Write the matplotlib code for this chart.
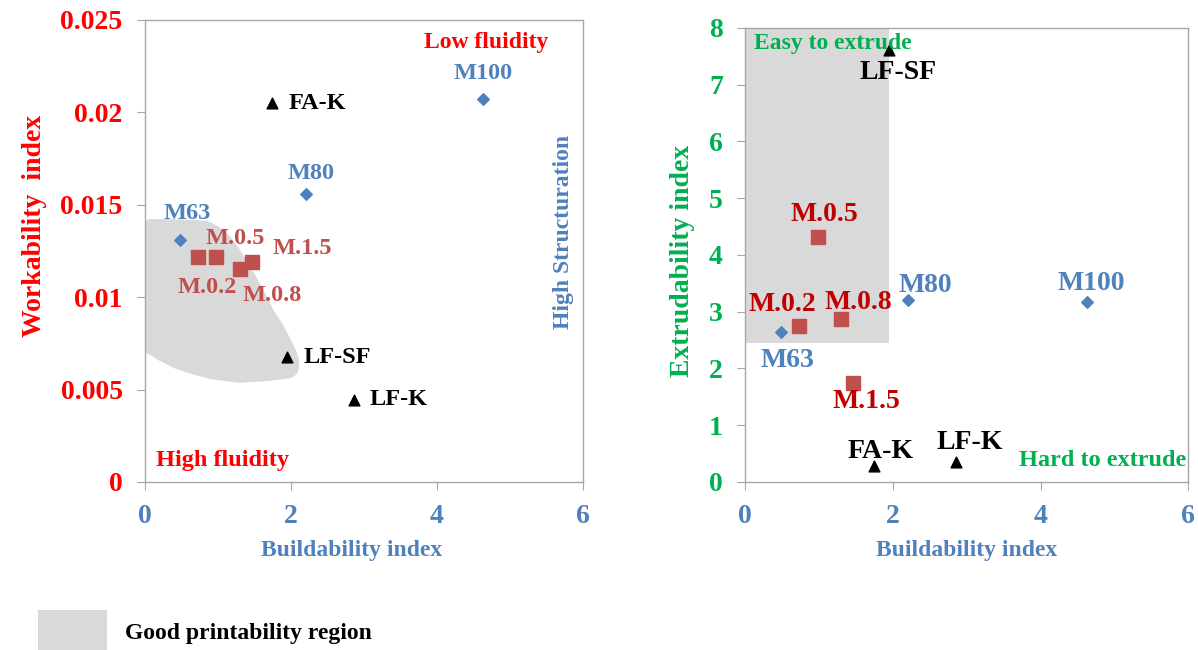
import matplotlib.pyplot as plt
from matplotlib.patches import Polygon, Rectangle
import numpy as np

plt.rcParams['font.family'] = ['Liberation Serif', 'DejaVu Serif']
plt.rcParams['font.weight'] = 'bold'

# mixes
m_names = ["M.0.2", "M.0.5", "M.0.8", "M.1.5"]
m_build = [0.73, 0.98, 1.30, 1.46]
m_work = [0.0122, 0.0122, 0.0115, 0.0119]
m_extr = [2.75, 4.32, 2.87, 1.74]

ref_names = ["M63", "M80", "M100"]
ref_build = [0.48, 2.20, 4.63]
ref_work = [0.0131, 0.0156, 0.0207]
ref_extr = [2.64, 3.21, 3.17]

oth_names = ["FA-K", "LF-SF", "LF-K"]
oth_build = [1.74, 1.95, 2.86]
oth_work = [0.0205, 0.00676, 0.00444]
oth_extr = [0.28, 7.61, 0.35]

# good printability region outlines
blob_x = [0.0, 0.05, 0.4, 0.85, 1.0, 1.16, 1.3, 1.44, 1.6, 1.75, 1.88, 1.99, 2.06, 2.1, 2.1, 2.08,
          2.02, 1.95, 1.7, 1.3, 0.9, 0.62, 0.4, 0.2, 0.08, 0.0]
blob_y = [0.0140, 0.01418, 0.01418, 0.0141, 0.0138, 0.01326, 0.0125, 0.0116, 0.0105, 0.0093, 0.0085,
          0.00768, 0.0071, 0.0066, 0.0062, 0.0059, 0.0057, 0.00563, 0.0055, 0.0054, 0.0056,
          0.0059, 0.0062, 0.0066, 0.0069, 0.00703]
rect_x = (0.0, 1.95)
rect_y = (2.45, 8.0)

RED = "#FF0000"
BLUE = "#4F81BD"
GREEN = "#00B050"
SQ = "#C0504D"
GREY = "#D9D9D9"

fig = plt.figure(figsize=(11.98, 6.5), dpi=100)
ax1 = fig.add_axes([0.121, 0.2585, 0.3656, 0.7108])
ax2 = fig.add_axes([0.622, 0.2585, 0.3698, 0.6985])

for ax in (ax1, ax2):
    for s in ax.spines.values():
        s.set_color("#A6A6A6")
        s.set_linewidth(1.0)
    ax.tick_params(direction="out", length=6, color="#A6A6A6", labelsize=20)
    ax.tick_params(axis="x", pad=10)
    ax.tick_params(axis="y", pad=10)
    ax.set_xlim(0, 6)
    ax.set_xticks([0, 2, 4, 6])
    for t in ax.get_xticklabels():
        t.set_color(BLUE)
    ax.set_xlabel("Buildability index", color=BLUE, fontsize=17, fontweight="bold", labelpad=8)

# left chart
ax1.add_patch(Polygon(np.column_stack([blob_x, blob_y]), closed=True, facecolor=GREY,
                      edgecolor=GREY, linewidth=1, joinstyle="round", zorder=0))
ax1.set_ylim(0, 0.025)
ax1.set_yticks([0, 0.005, 0.01, 0.015, 0.02, 0.025])
ax1.set_yticklabels(["0", "0.005", "0.01", "0.015", "0.02", "0.025"], color=RED)
ax1.set_ylabel("Workability  index", color=RED, fontsize=20, fontweight="bold", labelpad=10)
ax1.yaxis.label.set_y(0.555)
ax1.xaxis.label.set_x(0.472)

ax1.scatter(m_build, m_work, marker="s", s=110, color=SQ, zorder=3)
ax1.scatter(ref_build, ref_work, marker="D", s=35, color=BLUE, zorder=3)
ax1.scatter(oth_build, oth_work, marker="^", s=60, color="black", zorder=3)

lab1 = {"M.0.2": (0.12, -0.00166), "M.0.5": (0.25, 0.001), "M.0.8": (0.44, -0.00143),
        "M.1.5": (0.70, 0.00075)}
for n, x, y in zip(m_names, m_build, m_work):
    dx, dy = lab1[n]
    ax1.text(x + dx, y + dy, n, color=SQ, fontsize=17.5, ha="center", va="center")
lab1r = {"M63": (0.1, 0.00145), "M80": (0.07, 0.0011), "M100": (0.0, 0.0014)}
for n, x, y in zip(ref_names, ref_build, ref_work):
    dx, dy = lab1r[n]
    ax1.text(x + dx, y + dy, n, color=BLUE, fontsize=17.5, ha="center", va="center")
for n, x, y in zip(oth_names, oth_build, oth_work):
    ax1.text(x + 0.22, y, n, color="black", fontsize=17.5, ha="left", va="center")

ax1.text(4.68, 0.0238, "Low fluidity", color=RED, fontsize=17, ha="center", va="center")
ax1.text(0.157, 0.00117, "High fluidity", color=RED, fontsize=17.5, ha="left", va="center")
ax1.text(5.73, 0.01353, "High Structuration", color=BLUE, fontsize=17, rotation=90,
         ha="center", va="center")

# right chart
ax2.add_patch(Rectangle((rect_x[0], rect_y[0]), rect_x[1] - rect_x[0], rect_y[1] - rect_y[0],
                        facecolor=GREY, edgecolor="none", zorder=0))
ax2.set_ylim(0, 8)
ax2.set_yticks(range(0, 9))
for t in ax2.get_yticklabels():
    t.set_color(GREEN)
ax2.set_ylabel("Extrudability index", color=GREEN, fontsize=20, fontweight="bold", labelpad=10)
ax2.yaxis.label.set_y(0.486)

ax2.scatter(m_build, m_extr, marker="s", s=110, color=SQ, zorder=3)
ax2.scatter(ref_build, ref_extr, marker="D", s=35, color=BLUE, zorder=3)
ax2.scatter(oth_build, oth_extr, marker="^", s=60, color="black", zorder=3)

lab2 = {"M.0.2": (-0.23, 0.38), "M.0.5": (0.09, 0.4), "M.0.8": (0.23, 0.3), "M.1.5": (0.18, -0.33)}
for n, x, y in zip(m_names, m_build, m_extr):
    dx, dy = lab2[n]
    ax2.text(x + dx, y + dy, n, color="#C00000", fontsize=20, ha="center", va="center")
lab2r = {"M63": (0.09, -0.5), "M80": (0.24, 0.25), "M100": (0.06, 0.33)}
for n, x, y in zip(ref_names, ref_build, ref_extr):
    dx, dy = lab2r[n]
    ax2.text(x + dx, y + dy, n, color=BLUE, fontsize=20, ha="center", va="center")
lab2o = {"FA-K": (0.09, 0.25), "LF-SF": (0.12, -0.39), "LF-K": (0.18, 0.35)}
for n, x, y in zip(oth_names, oth_build, oth_extr):
    dx, dy = lab2o[n]
    ax2.text(x + dx, y + dy, n, color="black", fontsize=20, ha="center", va="center")

ax2.text(0.12, 7.73, "Easy to extrude", color=GREEN, fontsize=17, ha="left", va="center")
ax2.text(5.97, 0.38, "Hard to extrude", color=GREEN, fontsize=17.5, ha="right", va="center")

# legend patch
fig.patches.append(Rectangle((38 / 1198, 0), 69 / 1198, 40 / 650,
                             transform=fig.transFigure, facecolor=GREY, edgecolor="none"))
fig.text(125 / 1198, 1 - 633 / 650, "Good printability region", fontsize=17,
         fontweight="bold", color="black", va="center", ha="left")

fig.savefig("out.png", dpi=100)
